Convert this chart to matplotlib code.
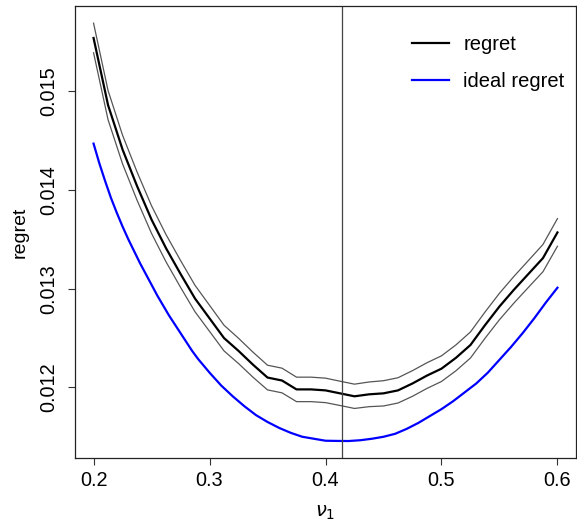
import matplotlib
matplotlib.use("Agg")
import matplotlib.pyplot as plt
import numpy as np

plt.rcParams['font.family'] = ['Liberation Sans', 'DejaVu Sans']

# nu_1 grid of the simulated regret (0.2 .. 0.6 in steps of 0.0125)
nu1 = np.linspace(0.2, 0.6, 33)

regret = [0.01554, 0.01486, 0.01441, 0.01404, 0.01370, 0.01341, 0.01315, 0.01290,
          0.01270, 0.01250, 0.01237, 0.01223, 0.01210, 0.01207, 0.01198, 0.01198,
          0.01197, 0.01194, 0.01191, 0.01193, 0.01194, 0.01197, 0.01204, 0.01212,
          0.01219, 0.01230, 0.01243, 0.01263, 0.01282, 0.01299, 0.01315, 0.01331,
          0.01357]

# half width of the thin grey band around regret
band = [0.000150, 0.000148, 0.000145, 0.000143, 0.000140, 0.000138, 0.000136, 0.000134,
        0.000132, 0.000130, 0.000128, 0.000127, 0.000125, 0.000125, 0.000124, 0.000124,
        0.000124, 0.000123, 0.000123, 0.000125, 0.000128, 0.000128, 0.000130, 0.000130,
        0.000130, 0.000131, 0.000132, 0.000133, 0.000134, 0.000135, 0.000136, 0.000138,
        0.000140]

# ideal regret, read on a finer grid
nu1_ideal = [0.200, 0.205, 0.210, 0.215, 0.220, 0.225, 0.230, 0.235, 0.240, 0.245,
             0.250, 0.255, 0.260, 0.265, 0.270, 0.275, 0.280, 0.285, 0.290, 0.295,
             0.300, 0.31, 0.32, 0.33, 0.34, 0.35, 0.36, 0.37, 0.38, 0.39, 0.40,
             0.41, 0.42, 0.43, 0.44, 0.45, 0.46, 0.47, 0.48, 0.49, 0.50, 0.51,
             0.52, 0.53, 0.54, 0.55, 0.56, 0.57, 0.58, 0.59, 0.60]
ideal = [0.01447, 0.01427, 0.01409, 0.01392, 0.01377, 0.01363, 0.01350, 0.01338,
         0.01326, 0.01315, 0.01304, 0.01293, 0.01283, 0.01273, 0.01264, 0.01255,
         0.01246, 0.01237, 0.01229, 0.01222, 0.01215, 0.01202, 0.01191, 0.01181,
         0.01172, 0.01165, 0.01159, 0.01154, 0.01150, 0.01148, 0.01146, 0.011458,
         0.011457, 0.011465, 0.01148, 0.01150, 0.01153, 0.01158, 0.01164, 0.01171,
         0.01178, 0.01186, 0.01195, 0.01204, 0.01215, 0.01228, 0.01241, 0.01255,
         0.01270, 0.01286, 0.01301]

nu_opt = np.sqrt(2) - 1

regret = np.array(regret)
band = np.array(band)

fig = plt.figure(figsize=(5.77, 5.29), dpi=100)
ax = fig.add_axes([75 / 577, (529 - 458) / 529, 501 / 577, 452 / 529])

ax.plot(nu1, regret + band, color='#555555', lw=0.9)
ax.plot(nu1, regret - band, color='#555555', lw=0.9)
ax.plot(nu1, regret, color='black', lw=1.6, label='regret')
ax.plot(nu1_ideal, ideal, color='#0000ff', lw=1.6, label='ideal regret')
ax.axvline(nu_opt, color='#444444', lw=0.9)

ax.set_xlim(0.184, 0.616)
ax.set_ylim(0.011285, 0.015864)
ax.set_xticks([0.2, 0.3, 0.4, 0.5, 0.6])
ax.set_xticklabels(['0.2', '0.3', '0.4', '0.5', '0.6'])
ax.set_yticks([0.012, 0.013, 0.014, 0.015])
ax.set_yticklabels(['0.012', '0.013', '0.014', '0.015'], rotation=90, va='center')
ax.tick_params(axis='both', length=5, width=0.8, color='#333333', labelsize=14.3)
ax.tick_params(axis='x', pad=4)
ax.tick_params(axis='y', pad=7)
for s in ax.spines.values():
    s.set_color('#222222')
    s.set_linewidth(0.9)

ax.set_xlabel(r'$\nu_1$', fontsize=14)
ax.xaxis.set_label_coords(0.5, -0.10)
ax.set_ylabel('regret', fontsize=14)
ax.yaxis.set_label_coords(-0.092, 0.5)

ax.legend(loc='upper left', bbox_to_anchor=(0.6727, 0.936), frameon=False,
          fontsize=14.5, handlelength=1.85, handletextpad=0.7, labelspacing=0.88,
          borderpad=0, borderaxespad=0)

fig.savefig('out.png', dpi=100)
